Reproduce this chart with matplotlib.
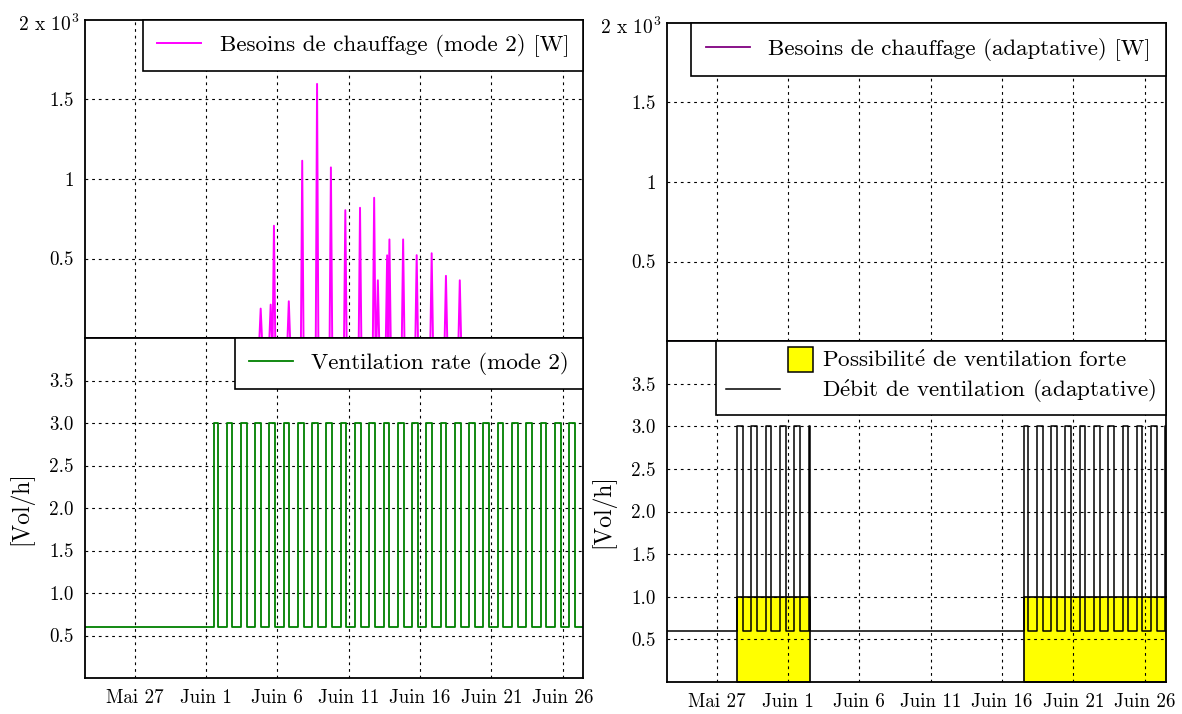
import matplotlib
matplotlib.use('Agg')
import matplotlib.pyplot as plt
from matplotlib.lines import Line2D
from matplotlib.patches import Patch, Rectangle
from matplotlib.legend_handler import HandlerBase

plt.rcParams['font.family'] = ['cmr10', 'DejaVu Serif']
plt.rcParams['mathtext.fontset'] = 'cm'
plt.rcParams['axes.unicode_minus'] = False

# x axis: days counted from Juin 1 00:00
tick_days = [-5, 0, 5, 10, 15, 20, 25]
tick_labels = ['Mai 27', 'Juin 1', 'Juin 6', 'Juin 11', 'Juin 16', 'Juin 21', 'Juin 26']
x_start = -8.47
x_end_mode2, x_end_adapt = 26.42, 26.5

# heating need peaks, mode 2 [W]
peak_days = [3.84, 4.54, 4.77, 5.81, 6.75, 7.79, 8.76, 9.77, 10.80, 11.79, 12.05,
             12.70, 12.86, 13.82, 14.77, 15.82, 16.82, 17.79]
peak_watts = [185, 210, 706, 231, 1115, 1598, 1073, 804, 819, 882, 363,
              520, 620, 620, 521, 533, 391, 363]

# ventilation schedule
vent_low, vent_high = 0.6, 3.0
on_hour, off_hour = 0.45, 0.85          # daily high period (fraction of day)
mode2_start = 0.56                       # strong ventilation allowed from here (mode 2)
possible_windows = [(-3.54, 1.52), (16.57, 27.0)]   # adaptative
possible_level = 1.0

FS_TICK = 13.7
FS_LEG = 16.6


def heating_series(days, watts, x_end, half=0.09):
    t, v = [x_start], [0]
    for d, w in zip(days, watts):
        t += [d - half, d, d + half]
        v += [0, w, 0]
    t.append(x_end)
    v.append(0)
    return t, v


def vent_series(windows, x_end):
    t, v = [x_start], [vent_low]
    for s, e in windows:
        for day in range(int(s) - 1, int(e) + 1):
            a, b = max(day + on_hour, s), min(day + off_hour, e)
            if a < b:
                t += [a, a, b, b]
                v += [vent_low, vent_high, vent_high, vent_low]
    t.append(x_end)
    v.append(vent_low)
    return t, v


class SquareRight(HandlerBase):
    # small filled square at the right end of the handle box
    def create_artists(self, legend, orig, xd, yd, width, height, fontsize, trans):
        s = fontsize * 1.1
        r = Rectangle((-xd + width - s, -yd + height / 2 - s / 2), s, s,
                      facecolor=orig.get_facecolor(), edgecolor='black', lw=1.1,
                      transform=trans)
        return [r]


class LineLeft(HandlerBase):
    # short line on the left part of the handle box
    def create_artists(self, legend, orig, xd, yd, width, height, fontsize, trans):
        y = -yd + height / 2
        ln = Line2D([-xd, -xd + width * 0.62], [y, y], color=orig.get_color(),
                    lw=orig.get_linewidth(), transform=trans)
        return [ln]


fig = plt.figure(figsize=(11.82, 7.14), dpi=100)
ax_tl = fig.add_axes([0.0719, 0.5266, 0.4213, 0.4454])
ax_bl = fig.add_axes([0.0719, 0.0504, 0.4213, 0.4762])
ax_tr = fig.add_axes([0.5643, 0.5224, 0.4222, 0.4454])
ax_br = fig.add_axes([0.5643, 0.0448, 0.4222, 0.4776])


def style(ax, bottom, x_end):
    ax.set_xlim(x_start, x_end)
    ax.set_xticks(tick_days)
    if bottom:
        ax.set_xticklabels(tick_labels, fontsize=FS_TICK)
        ax.set_ylim(0, 4)
        ax.set_yticks([0.5, 1.0, 1.5, 2.0, 2.5, 3.0, 3.5])
        ax.set_yticklabels(['0.5', '1.0', '1.5', '2.0', '2.5', '3.0', '3.5'], fontsize=FS_TICK)
        ax.set_ylabel('[Vol/h]', fontsize=17)
        ax.yaxis.set_label_coords(-0.104, 0.5)
    else:
        ax.set_xticklabels([])
        ax.set_ylim(0, 2000)
        ax.set_yticks([500, 1000, 1500])
        ax.set_yticklabels(['0.5', '1', '1.5'], fontsize=FS_TICK)
        ax.text(-0.012, 0.985, r'2 x 10$^3$', transform=ax.transAxes,
                ha='right', va='center', fontsize=14)
    ax.grid(True, linestyle=(0, (2.5, 3.5)), color='black', linewidth=0.8)
    ax.tick_params(direction='in', length=0, pad=8)
    for sp in ax.spines.values():
        sp.set_linewidth(1.3)


def legend(ax, **kw):
    leg = ax.legend(loc='upper right', borderaxespad=0, fancybox=False,
                    edgecolor='black', framealpha=1, fontsize=FS_LEG, **kw)
    leg.get_frame().set_linewidth(1.2)
    return leg


# top left: heating mode 2
t, v = heating_series(peak_days, peak_watts, x_end_mode2)
ax_tl.plot(t, v, color='#ff00ff', lw=1.4, label='Besoins de chauffage (mode 2) [W]')
style(ax_tl, False, x_end_mode2)
legend(ax_tl, handlelength=1.9, borderpad=0.6)

# bottom left: ventilation mode 2
t, v = vent_series([(mode2_start, x_end_mode2)], x_end_mode2)
ax_bl.plot(t, v, color='#008000', lw=1.3, label='Ventilation rate (mode 2)')
style(ax_bl, True, x_end_mode2)
legend(ax_bl, handlelength=1.9, borderpad=0.6)

# top right: heating adaptative (zero)
ax_tr.plot([x_start, x_end_adapt], [0, 0], color='#800080', lw=1.3, clip_on=False,
           label='Besoins de chauffage (adaptative) [W]')
style(ax_tr, False, x_end_adapt)
legend(ax_tr, handlelength=1.9, borderpad=0.65)

# bottom right: adaptative ventilation
for s, e in possible_windows:
    ax_br.fill_between([s, e], 0, possible_level, facecolor='#ffff00',
                       edgecolor='black', linewidth=1.2)
t, v = vent_series(possible_windows, x_end_adapt)
ax_br.plot(t, v, color='black', lw=1.1)
style(ax_br, True, x_end_adapt)
h_poss = Patch(facecolor='#ffff00', edgecolor='black')
h_vent = Line2D([], [], color='black', lw=1.1)
legend(ax_br, handles=[h_poss, h_vent],
       labels=[r'Possibilit$\acute{\mathrm{e}}$ de ventilation forte',
               r'D$\acute{\mathrm{e}}$bit de ventilation (adaptative)'],
       handlelength=3.8, handletextpad=0.4, labelspacing=0.3,
       handler_map={Patch: SquareRight(), Line2D: LineLeft()})

fig.savefig('out.png', dpi=100)
